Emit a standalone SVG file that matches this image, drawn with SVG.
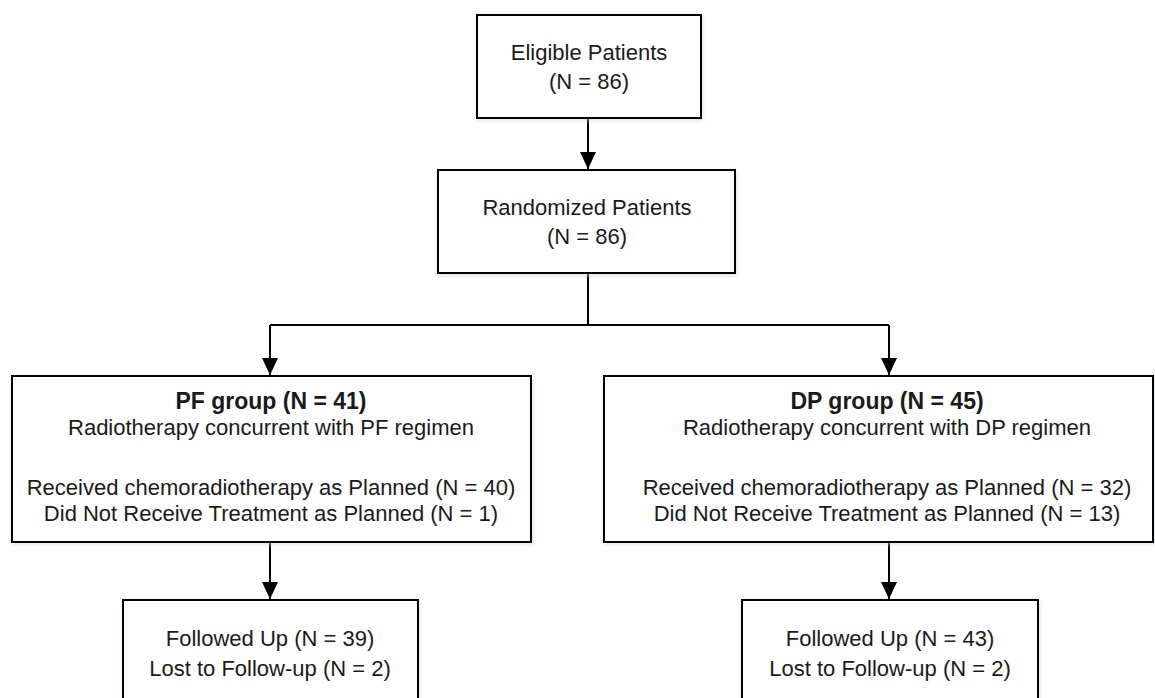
<svg xmlns="http://www.w3.org/2000/svg" width="1155" height="698" viewBox="0 0 1155 698">
  <style>
    .box { fill: #ffffff; stroke: #000000; stroke-width: 2; filter: url(#sh); }
    .t { font-family: "Liberation Sans", Arial, sans-serif; font-size: 22px; fill: #1a1a1a; text-anchor: middle; }
    .b { font-weight: bold; font-size: 23px; }
    .c { fill: none; stroke: #000000; stroke-width: 2; }
  </style>
  <defs>
    <filter id="sh" x="-5%" y="-5%" width="110%" height="110%">
      <feDropShadow dx="1" dy="2" stdDeviation="2" flood-color="#c8d0dc" flood-opacity="0.6"/>
    </filter>
    <marker id="ah" markerUnits="userSpaceOnUse" markerWidth="18" markerHeight="16" refX="17" refY="8" orient="auto" viewBox="0 0 18 16">
      <path d="M0,0 L17,8 L0,16 Z" fill="#000000"/>
    </marker>
  </defs>
  <rect width="1155" height="698" fill="#ffffff"/>

  <g id="connectors">
    <path class="c" d="M588,118 L588,169" marker-end="url(#ah)"/>
    <path class="c" d="M588,273 L588,325"/>
    <path class="c" d="M270,325 L889,325"/>
    <path class="c" d="M270,325 L270,375" marker-end="url(#ah)"/>
    <path class="c" d="M889,325 L889,375" marker-end="url(#ah)"/>
    <path class="c" d="M270,542 L270,599" marker-end="url(#ah)"/>
    <path class="c" d="M889,542 L889,599" marker-end="url(#ah)"/>
  </g>

  <g id="eligible">
    <rect class="box" x="477" y="15" width="224" height="103"/>
    <text class="t" x="589" y="60">Eligible Patients</text>
    <text class="t" x="589" y="89">(N = 86)</text>
  </g>

  <g id="randomized">
    <rect class="box" x="438" y="170" width="297" height="103"/>
    <text class="t" x="587" y="215">Randomized Patients</text>
    <text class="t" x="587" y="244">(N = 86)</text>
  </g>

  <g id="pf-group">
    <rect class="box" x="12" y="376" width="519" height="166"/>
    <text class="t b" x="271" y="409">PF group (N = 41)</text>
    <text class="t" x="271" y="435">Radiotherapy concurrent with PF regimen</text>
    <text class="t" x="271" y="495">Received chemoradiotherapy as Planned (N = 40)</text>
    <text class="t" x="271" y="521">Did Not Receive Treatment as Planned (N = 1)</text>
  </g>

  <g id="dp-group">
    <rect class="box" x="604" y="376" width="549" height="166"/>
    <text class="t b" x="887" y="409">DP group (N = 45)</text>
    <text class="t" x="887" y="435">Radiotherapy concurrent with DP regimen</text>
    <text class="t" x="887" y="495">Received chemoradiotherapy as Planned (N = 32)</text>
    <text class="t" x="887" y="521">Did Not Receive Treatment as Planned (N = 13)</text>
  </g>

  <g id="pf-followup">
    <rect class="box" x="123" y="600" width="295" height="110"/>
    <text class="t" x="270" y="646">Followed Up (N = 39)</text>
    <text class="t" x="270" y="676">Lost to Follow-up (N = 2)</text>
  </g>

  <g id="dp-followup">
    <rect class="box" x="742" y="600" width="296" height="110"/>
    <text class="t" x="890" y="646">Followed Up (N = 43)</text>
    <text class="t" x="890" y="676">Lost to Follow-up (N = 2)</text>
  </g>
</svg>
